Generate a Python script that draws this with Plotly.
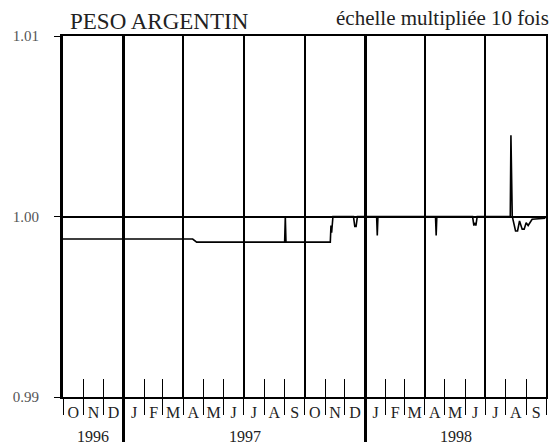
import pandas as pd
import plotly.graph_objects as go

# Daily fixing of the Argentine peso against the US dollar (scale x10)
dates = [
    "1996-10-01", "1997-04-15", "1997-04-21", "1997-09-01", "1997-09-02", "1997-09-03",
    "1997-11-09", "1997-11-10", "1997-11-11", "1997-11-13",
    "1997-12-14", "1997-12-16", "1997-12-18", "1997-12-20",
    "1998-01-18", "1998-01-19", "1998-01-20",
    "1998-04-17", "1998-04-18", "1998-04-19",
    "1998-06-12", "1998-06-14", "1998-06-16", "1998-06-17", "1998-06-19",
    "1998-08-08", "1998-08-09", "1998-08-10", "1998-08-11",
    "1998-08-16", "1998-08-19", "1998-08-22", "1998-08-26", "1998-08-29",
    "1998-09-01", "1998-09-04", "1998-09-07", "1998-09-10", "1998-09-30",
]
values = [
    0.99875, 0.99875, 0.99858, 0.99858, 1.0000, 0.99858,
    0.99858, 0.99950, 0.99910, 1.0000,
    1.0000, 0.99945, 0.99945, 1.0000,
    1.0000, 0.99895, 1.0000,
    1.0000, 0.99895, 1.0000,
    1.0000, 0.99950, 0.99965, 0.99950, 1.0000,
    1.0000, 1.00450, 1.00200, 1.0000,
    0.99920, 0.99920, 0.99975, 0.99930, 0.99930,
    0.99965, 0.99950, 0.99970, 0.99985, 0.99990,
]

month_letters = ["O", "N", "D", "J", "F", "M", "A", "M", "J", "J", "A", "S",
                 "O", "N", "D", "J", "F", "M", "A", "M", "J", "J", "A", "S"]
years = ["1996", "1997", "1998"]
year_spans = [("1996-10-01", "1997-01-01"), ("1997-01-01", "1998-01-01"),
              ("1998-01-01", "1998-10-01")]
y_ticks = [0.99, 1.00, 1.01]
y_labels = ["0.99", "1.00", "1.01"]

start, end = "1996-10-01", "1998-10-01"
month_starts = pd.date_range(start, end, freq="MS")
month_mids = [a + (b - a) / 2 for a, b in zip(month_starts[:-1], month_starts[1:])]
year_starts = [pd.Timestamp(s) for s, _ in year_spans[1:]]
quarter_starts = [d for d in month_starts[1:-1] if d.month in (4, 7, 10)]

SERIF = "Liberation Serif"

fig = go.Figure()
fig.add_trace(go.Scatter(x=pd.to_datetime(dates), y=values, mode="lines",
                         line=dict(color="black", width=1.6), showlegend=False,
                         xaxis="x", yaxis="y"))

common = dict(type="date", range=[start, end], overlaying="x", matches="x",
              anchor="y", side="bottom", showticklabels=False, showline=False)

fig.update_layout(
    width=552, height=447,
    margin=dict(l=63, r=6, t=36, b=44),
    paper_bgcolor="white", plot_bgcolor="white",
    font=dict(family=SERIF, color="#222"),
    xaxis=dict(
        type="date", range=[start, end],
        tickmode="array", tickvals=month_mids, ticktext=month_letters,
        ticks="", showgrid=False, zeroline=False,
        showline=True, linecolor="black", linewidth=2, mirror=True,
        tickfont=dict(family=SERIF, size=16, color="#222"),
        minor=dict(tickmode="array", tickvals=list(month_starts), ticks="outside",
                   ticklen=16, tickwidth=1.3, tickcolor="black", showgrid=False),
    ),
    xaxis2=dict(**common, tickmode="array", tickvals=list(month_starts[1:-1]),
                ticks="inside", ticklen=18, tickwidth=1.3, tickcolor="black",
                showgrid=False),
    xaxis3=dict(**common, tickmode="array", tickvals=quarter_starts, ticks="",
                showgrid=True, gridcolor="black", gridwidth=1.5),
    xaxis4=dict(**common, tickmode="array", tickvals=year_starts, ticks="outside",
                ticklen=44, tickwidth=3, tickcolor="black",
                showgrid=True, gridcolor="black", gridwidth=3),
    yaxis=dict(
        range=[0.99, 1.01], tickmode="array", tickvals=y_ticks, ticktext=y_labels,
        ticks="outside", ticklen=6, tickwidth=1.3, tickcolor="black",
        ticklabelstandoff=12,
        showgrid=True, gridcolor="black", gridwidth=1.5, zeroline=False,
        showline=True, linecolor="black", linewidth=3,
        tickfont=dict(family=SERIF, size=15, color="#555"),
    ),
    yaxis2=dict(range=[0.99, 1.01], overlaying="y", matches="y", side="right",
                showline=True, linecolor="black", linewidth=1.5,
                showticklabels=False, ticks="", showgrid=False, zeroline=False),
)

# invisible traces bind the overlay axes to the plot
for ax in ["x2", "x3", "x4"]:
    fig.add_trace(go.Scatter(x=[start], y=[1.0], mode="markers", opacity=0,
                             showlegend=False, hoverinfo="skip", xaxis=ax, yaxis="y"))
fig.add_trace(go.Scatter(x=[start], y=[1.0], mode="markers", opacity=0,
                         showlegend=False, hoverinfo="skip", xaxis="x", yaxis="y2"))

for label, (a, b) in zip(years, year_spans):
    ta, tb = pd.Timestamp(a), pd.Timestamp(b)
    fig.add_annotation(x=ta + (tb - ta) / 2, xref="x", y=-0.11, yref="paper",
                       text=label, showarrow=False, yanchor="middle",
                       font=dict(family=SERIF, size=16, color="#222"))

fig.add_annotation(x=0.01, xref="paper", y=1.0, yref="paper", yshift=0,
                   text="PESO ARGENTIN", showarrow=False, xanchor="left",
                   yanchor="bottom", font=dict(family=SERIF, size=23, color="#222"))
fig.add_annotation(x=1.0, xref="paper", y=1.0, yref="paper", yshift=4, xshift=5,
                   text="échelle multipliée 10 fois", showarrow=False,
                   xanchor="right", yanchor="bottom",
                   font=dict(family=SERIF, size=21, color="#222"))

fig.write_html("out.html")
